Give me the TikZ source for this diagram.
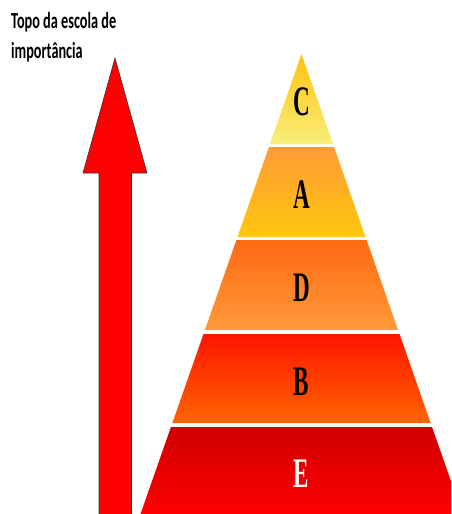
\documentclass[tikz,border=0pt]{standalone}
\usepackage{fontspec}
\setmainfont{Liberation Serif}
\newfontfamily\titlefont{Carlito}
\usetikzlibrary{calc}
\usetikzlibrary{positioning}
\definecolor{cTop}{HTML}{FFC20E}
\definecolor{cBot}{HTML}{F8EE7A}
\definecolor{aTop}{HTML}{FF9A35}
\definecolor{aBot}{HTML}{FFC80E}
\definecolor{dTop}{HTML}{FF6A12}
\definecolor{dBot}{HTML}{FF9A3A}
\definecolor{bTop}{HTML}{FF1500}
\definecolor{bBot}{HTML}{FF6500}
\definecolor{eTop}{HTML}{D00000}
\definecolor{eBot}{HTML}{FF0000}
\newcommand{\narrowtxt}[2]{\scalebox{#1}[1]{#2}}

\begin{document}
\begin{tikzpicture}[x=1pt,y=-1pt,
	  title text/.style={font=\titlefont\bfseries\fontsize{23}{30}\selectfont, align=left, inner sep=0pt},
	  layer label/.style={font=\bfseries\fontsize{42}{42}\selectfont, inner sep=0pt}]

	  \clip (0,0) rectangle (451,514);
	  \useasboundingbox (0,0) rectangle (451,514);

	  % importance arrow
	  \draw[fill=red, draw=black!80, line width=0.6pt]
	  	(115,58) -- (147,173) -- (131.5,173) -- (131.5,520) -- (99,520) -- (99,173) -- (83,173) -- cycle;

	  \node[title text, anchor=north west] (title) at (11,12)
	  	{\narrowtxt{0.62}{Topo da escola de}\\ \narrowtxt{0.62}{importância}};

	  % pyramid layers, apex at (301.5,54)
	  \foreach \ya/\yb/\ct/\cb/\lbl/\tc [count=\i] in
	  	{54/144/cTop/cBot/C/black, 147/237/aTop/aBot/A/black, 240/330/dTop/dBot/D/black,
	  	 334/423/bTop/bBot/B/black, 427/514/eTop/eBot/E/white}
	  {
	    \shade[top color=\ct, bottom color=\cb]
	    	({301.5-0.35*(\ya-54)},\ya) -- ({301.5+0.35*(\ya-54)},\ya) --
	    	({301.5+0.35*(\yb-54)},\yb) -- ({301.5-0.35*(\yb-54)},\yb) -- cycle;
	    \node[layer label, text=\tc] (layer\i) at (301.5,{(\ya+\yb)/2+3}) {\narrowtxt{0.55}{\lbl}};
	  }
\end{tikzpicture}
\end{document}
